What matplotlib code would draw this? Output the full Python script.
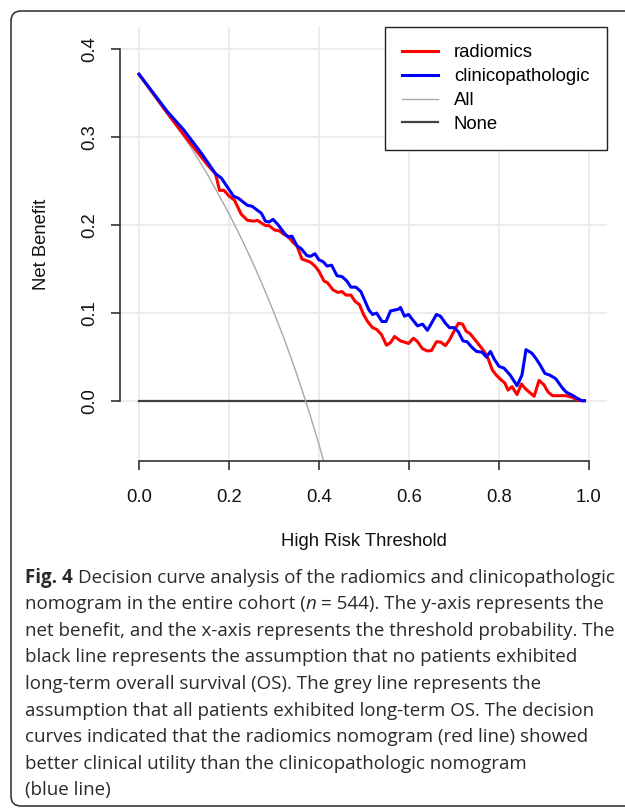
import matplotlib
matplotlib.use("Agg")
import matplotlib.pyplot as plt
from matplotlib.patches import FancyBboxPatch
from matplotlib.transforms import IdentityTransform

# ---------------- data ----------------
clin_t = [0, 0.064, 0.099, 0.139, 0.17, 0.183, 0.21, 0.221, 0.241, 0.251, 0.272, 0.281, 0.289,
          0.298, 0.309, 0.322, 0.331, 0.340, 0.351, 0.360, 0.373, 0.381, 0.391, 0.400, 0.409,
          0.418, 0.428, 0.440, 0.451, 0.462, 0.471, 0.482, 0.493, 0.499, 0.511, 0.519, 0.528,
          0.540, 0.549, 0.559, 0.577, 0.581, 0.590, 0.599, 0.608, 0.619, 0.630, 0.641, 0.650,
          0.661, 0.670, 0.681, 0.690, 0.701, 0.710, 0.720, 0.729, 0.741, 0.750, 0.763, 0.772,
          0.781, 0.789, 0.800, 0.811, 0.825, 0.840, 0.851, 0.860, 0.873, 0.882, 0.891, 0.902,
          0.913, 0.926, 0.940, 0.949, 0.962, 0.973, 0.984, 0.99]
clin_nb = [0.371, 0.328, 0.308, 0.281, 0.258, 0.253, 0.2325, 0.230, 0.222, 0.221, 0.213, 0.204,
           0.203, 0.206, 0.200, 0.191, 0.186, 0.187, 0.176, 0.173, 0.165, 0.164, 0.167, 0.160,
           0.158, 0.153, 0.154, 0.142, 0.141, 0.136, 0.129, 0.129, 0.124, 0.117, 0.103, 0.098,
           0.0996, 0.090, 0.090, 0.102, 0.104, 0.106, 0.096, 0.098, 0.092, 0.085, 0.087, 0.080,
           0.088, 0.098, 0.096, 0.088, 0.083, 0.083, 0.078, 0.068, 0.067, 0.060, 0.056, 0.055,
           0.0496, 0.056, 0.0476, 0.039, 0.037, 0.029, 0.017, 0.029, 0.058, 0.054, 0.048, 0.041,
           0.031, 0.029, 0.025, 0.015, 0.0098, 0.0065, 0.003, 0.0, 0.0]

rad_t = [0, 0.064, 0.095, 0.126, 0.152, 0.170, 0.179, 0.189, 0.200, 0.212, 0.227, 0.241, 0.256,
         0.263, 0.281, 0.289, 0.301, 0.312, 0.322, 0.331, 0.342, 0.351, 0.362, 0.373, 0.382,
         0.391, 0.400, 0.411, 0.419, 0.431, 0.442, 0.451, 0.460, 0.471, 0.480, 0.490, 0.499,
         0.508, 0.519, 0.528, 0.539, 0.550, 0.559, 0.568, 0.581, 0.599, 0.610, 0.619, 0.630,
         0.641, 0.650, 0.661, 0.670, 0.681, 0.690, 0.701, 0.710, 0.719, 0.727, 0.736, 0.747,
         0.758, 0.767, 0.776, 0.785, 0.794, 0.804, 0.813, 0.820, 0.829, 0.840, 0.850, 0.858,
         0.867, 0.878, 0.889, 0.900, 0.909, 0.919, 0.931, 0.949, 0.962, 0.973, 0.984, 0.99]
rad_nb = [0.371, 0.326, 0.305, 0.285, 0.268, 0.258, 0.239, 0.239, 0.2325, 0.228, 0.212, 0.205,
          0.204, 0.205, 0.199, 0.199, 0.194, 0.193, 0.189, 0.187, 0.180, 0.176, 0.161, 0.159,
          0.157, 0.153, 0.147, 0.136, 0.134, 0.126, 0.123, 0.124, 0.120, 0.120, 0.113, 0.109,
          0.098, 0.090, 0.083, 0.081, 0.075, 0.063, 0.066, 0.073, 0.068, 0.065, 0.071, 0.067,
          0.059, 0.0565, 0.057, 0.067, 0.0667, 0.0626, 0.069, 0.080, 0.088, 0.087, 0.079, 0.076,
          0.069, 0.062, 0.056, 0.0476, 0.035, 0.029, 0.024, 0.020, 0.012, 0.016, 0.007, 0.019,
          0.014, 0.0098, 0.005, 0.023, 0.018, 0.0098, 0.0057, 0.0057, 0.0057, 0.004, 0.001,
          0.0, 0.0]

all_t = [0.0, 0.025, 0.05, 0.075, 0.10, 0.125, 0.15, 0.175, 0.20, 0.225, 0.25, 0.275, 0.30,
         0.325, 0.35, 0.36, 0.37, 0.38, 0.39, 0.40, 0.41, 0.42]
all_nb = [0.370, 0.354, 0.337, 0.319, 0.300, 0.280, 0.259, 0.236, 0.2125, 0.187, 0.160, 0.131,
          0.100, 0.067, 0.031, 0.0156, 0.0, -0.016, -0.033, -0.050, -0.068, -0.086]

none_t = [0.0, 0.99]
none_nb = [0.0, 0.0]

x_ticks = [0.0, 0.2, 0.4, 0.6, 0.8, 1.0]
x_tick_labels = ["0.0", "0.2", "0.4", "0.6", "0.8", "1.0"]
y_ticks = [0.0, 0.1, 0.2, 0.3, 0.4]
y_tick_labels = ["0.0", "0.1", "0.2", "0.3", "0.4"]

legend_labels = ["radiomics", "clinicopathologic", "All", "None"]

caption_lines = [
    [("Fig. 4", "bold"), (" Decision curve analysis of the radiomics and clinicopathologic", "normal")],
    [("nomogram in the entire cohort (", "normal"), ("n", "italic"), (" = 544). The y-axis represents the", "normal")],
    [("net benefit, and the x-axis represents the threshold probability. The", "normal")],
    [("black line represents the assumption that no patients exhibited", "normal")],
    [("long-term overall survival (OS). The grey line represents the", "normal")],
    [("assumption that all patients exhibited long-term OS. The decision", "normal")],
    [("curves indicated that the radiomics nomogram (red line) showed", "normal")],
    [("better clinical utility than the clinicopathologic nomogram", "normal")],
    [("(blue line)", "normal")],
]

# ---------------- figure ----------------
W, H, DPI = 625, 808, 100
fig = plt.figure(figsize=(W / DPI, H / DPI), dpi=DPI)
fig.patch.set_facecolor("white")

CF = ["Liberation Sans", "DejaVu Sans"]
FS = 13.3
AXC = "#333333"

L, R, T, B = 120.4, 607.0, 26.8, 461.4
ax = fig.add_axes([L / W, 1 - B / H, (R - L) / W, (B - T) / H])
ax.set_xlim(-0.0413, 1.04)
ax.set_ylim(-0.069, 0.4249)

ax.grid(True, color="#ebebeb", lw=1.3, zorder=0)
ax.set_axisbelow(True)

l_none, = ax.plot(none_t, none_nb, color="#404040", lw=1.6, zorder=2)
l_all, = ax.plot(all_t, all_nb, color="#a8a8a8", lw=1.0, zorder=2)
l_rad, = ax.plot(rad_t, rad_nb, color="#ff0000", lw=2.2, zorder=4, solid_joinstyle="round")
l_clin, = ax.plot(clin_t, clin_nb, color="#0000ff", lw=2.2, zorder=5, solid_joinstyle="round")

for s in ["top", "right"]:
    ax.spines[s].set_visible(False)
ax.spines["left"].set_bounds(0.0, 0.4)
ax.spines["bottom"].set_bounds(0.0, 1.0)
for s in ["left", "bottom"]:
    ax.spines[s].set_color(AXC)
    ax.spines[s].set_linewidth(1.2)

ax.set_xticks(x_ticks)
ax.set_xticklabels(x_tick_labels, fontfamily=CF, fontsize=FS)
ax.set_yticks(y_ticks)
ax.set_yticklabels(y_tick_labels, fontfamily=CF, fontsize=FS, rotation=90, va="center")
ax.tick_params(axis="both", direction="out", length=6.7, width=1.2, color=AXC, labelcolor="#111111")
ax.tick_params(axis="x", pad=13.2)
ax.tick_params(axis="y", pad=9)

ax.set_xlabel("High Risk Threshold", fontfamily=CF, fontsize=FS, color="#111111", va="center")
ax.xaxis.set_label_coords(0.5, (B - 541) / (B - T))
ax.set_ylabel("Net Benefit", fontfamily=CF, fontsize=FS, color="#111111", va="center")
ax.yaxis.set_label_coords((42 - L) / (R - L), 0.5)

leg = ax.legend([l_rad, l_clin, l_all, l_none], legend_labels, loc="upper right",
                bbox_to_anchor=(1.0, 1.0), borderaxespad=0.0, fancybox=False,
                prop={"family": CF, "size": FS}, handlelength=1.95, handletextpad=0.85,
                borderpad=0.95, labelspacing=0.37, framealpha=1)
leg.get_frame().set_edgecolor("#222222")
leg.get_frame().set_linewidth(1.0)

# outer rounded frame (pixel coordinates)
frame = FancyBboxPatch((11, 2), 660, 795, boxstyle="round,pad=0,rounding_size=10",
                       transform=IdentityTransform(), fill=False, edgecolor="#3a3a3a",
                       lw=1.2, clip_on=False)
fig.patches.append(frame)

# ---------------- caption ----------------
CAPF = ["Open Sans", "DejaVu Sans"]
CAPC = "#2a2a2a"
renderer = fig.canvas.get_renderer()


def seg_width(s, style, size):
    kw = dict(fontfamily=CAPF, fontsize=size)
    if style == "bold":
        kw["fontweight"] = "bold"
    elif style == "italic":
        kw["fontstyle"] = "italic"
    t = fig.text(0, 0, s.strip(), **kw)
    w = t.get_window_extent(renderer).width
    t.remove()
    return w


def space_width(size):
    return seg_width("x x", "normal", size) - seg_width("xx", "normal", size)


def line_width(segs, size):
    sp = space_width(size)
    w = 0
    for s, st in segs:
        if s.startswith(" "):
            w += sp
        w += seg_width(s, st, size)
    return w


# fit caption size so that the first line spans the reference width
ref_size = 10.0
cap_size = ref_size * (617.0 - 25.0) / line_width(caption_lines[0], ref_size)

x0, base0, lead = 25.0, 582.7, 26.6
sp = space_width(cap_size)
for i, segs in enumerate(caption_lines):
    x = x0
    y = H - (base0 + i * lead)
    for s, st in segs:
        if s.startswith(" "):
            x += sp
        kw = dict(fontfamily=CAPF, fontsize=cap_size, color=CAPC, va="baseline", ha="left",
                  transform=IdentityTransform())
        if st == "bold":
            kw["fontweight"] = "bold"
        elif st == "italic":
            kw["fontstyle"] = "italic"
        t = fig.text(x, y, s.strip(), **kw)
        x += t.get_window_extent(renderer).width

fig.savefig("out.png", dpi=DPI, facecolor="white")
